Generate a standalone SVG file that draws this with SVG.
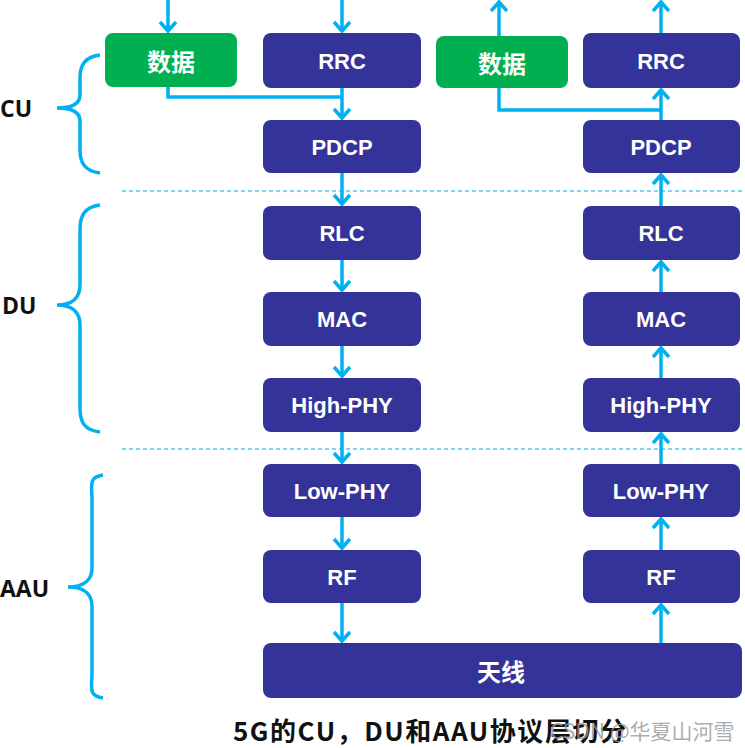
<svg xmlns="http://www.w3.org/2000/svg" width="745" height="748" viewBox="0 0 745 748">
<style>
.box{fill:#333399}
.green{fill:#00B050}
.t{font-family:"Liberation Sans","Noto Sans CJK SC",sans-serif;font-weight:bold;font-size:22px;fill:#fff;text-anchor:middle;dominant-baseline:central}
.tc{font-family:"Noto Sans CJK SC",sans-serif;font-weight:bold;font-size:24px;fill:#fff;text-anchor:middle;dominant-baseline:central}
.lbl{font-family:"Open Sans","Liberation Sans",sans-serif;font-weight:bold;font-size:23px;fill:#111;dominant-baseline:central}
.c{fill:none;stroke:#00B0F0;stroke-width:3.5}
.brace{fill:none;stroke:#00B0F0;stroke-width:3.5}
.dash{stroke:#00B0F0;stroke-width:1.2;stroke-dasharray:4 3}
.cap{font-family:"Noto Sans CJK SC","Liberation Sans",sans-serif;font-weight:bold;font-size:26px;fill:#111}
.wm{font-family:"Noto Sans CJK SC","Liberation Sans",sans-serif;font-size:21px;fill:#999;opacity:0.8}
</style>
<defs>
<marker id="ah" markerUnits="userSpaceOnUse" viewBox="-12 -10 14 20" markerWidth="14" markerHeight="20" refX="0" refY="0" orient="auto" overflow="visible">
<path d="M-9,-8 L0,0 L-9,8" fill="none" stroke="#00B0F0" stroke-width="3.5" stroke-linejoin="miter"/>
</marker>
</defs>
<rect width="745" height="748" fill="#fff"/>

<g id="dividers">
<line class="dash" x1="122" y1="191" x2="745" y2="191"/>
<line class="dash" x1="122" y1="449" x2="745" y2="449"/>
</g>

<g id="braces">
<path class="brace" d="M100,55 C84,57 80,66 80,78 V95 C80,104 72,108 57,108 C72,108 80,112 80,121 V150 C80,162 84,171 100,173"/>
<path class="brace" d="M100,205 C84,207 80,216 80,230 V285 C80,298 72,305 57,305 C72,305 80,312 80,325 V408 C80,422 84,430 100,432"/>
<path class="brace" d="M103,475 C88,477 92,486 92,500 V568 C92,580 84,587 68,587 C84,587 92,594 92,606 V673 C92,688 88,696 103,698"/>
</g>

<g id="labels">
<text class="lbl" x="0" y="108">CU</text>
<text class="lbl" x="2" y="305">DU</text>
<text class="lbl" x="0" y="588">AAU</text>
</g>

<g id="connectors">
<line class="c" x1="168" y1="0" x2="168" y2="31" marker-end="url(#ah)"/>
<line class="c" x1="342" y1="0" x2="342" y2="31" marker-end="url(#ah)"/>
<path class="c" d="M168,87 V97 H342"/>
<line class="c" x1="342" y1="88" x2="342" y2="118" marker-end="url(#ah)"/>
<line class="c" x1="342" y1="173" x2="342" y2="204" marker-end="url(#ah)"/>
<line class="c" x1="342" y1="260" x2="342" y2="290" marker-end="url(#ah)"/>
<line class="c" x1="342" y1="346" x2="342" y2="376" marker-end="url(#ah)"/>
<line class="c" x1="342" y1="432" x2="342" y2="462" marker-end="url(#ah)"/>
<line class="c" x1="342" y1="517" x2="342" y2="548" marker-end="url(#ah)"/>
<line class="c" x1="342" y1="603" x2="342" y2="641" marker-end="url(#ah)"/>

<line class="c" x1="499" y1="36" x2="499" y2="2" marker-end="url(#ah)"/>
<line class="c" x1="661" y1="33" x2="661" y2="2" marker-end="url(#ah)"/>
<path class="c" d="M499,88 V110 H661"/>
<line class="c" x1="661" y1="120" x2="661" y2="90" marker-end="url(#ah)"/>
<line class="c" x1="661" y1="206" x2="661" y2="175" marker-end="url(#ah)"/>
<line class="c" x1="661" y1="292" x2="661" y2="262" marker-end="url(#ah)"/>
<line class="c" x1="661" y1="378" x2="661" y2="348" marker-end="url(#ah)"/>
<line class="c" x1="661" y1="464" x2="661" y2="434" marker-end="url(#ah)"/>
<line class="c" x1="661" y1="550" x2="661" y2="519" marker-end="url(#ah)"/>
<line class="c" x1="661" y1="643" x2="661" y2="605" marker-end="url(#ah)"/>
</g>

<g id="L-data"><rect class="green" x="105" y="33" width="132" height="54" rx="8"/><text class="tc" x="171" y="60">数据</text></g>
<g id="L-RRC"><rect class="box" x="263" y="33" width="158" height="55" rx="8"/><text class="t" x="342" y="61">RRC</text></g>
<g id="L-PDCP"><rect class="box" x="263" y="120" width="158" height="53" rx="8"/><text class="t" x="342" y="147">PDCP</text></g>
<g id="L-RLC"><rect class="box" x="263" y="206" width="158" height="54" rx="8"/><text class="t" x="342" y="233">RLC</text></g>
<g id="L-MAC"><rect class="box" x="263" y="292" width="158" height="54" rx="8"/><text class="t" x="342" y="319">MAC</text></g>
<g id="L-HighPHY"><rect class="box" x="263" y="378" width="158" height="54" rx="8"/><text class="t" x="342" y="405">High-PHY</text></g>
<g id="L-LowPHY"><rect class="box" x="263" y="464" width="158" height="53" rx="8"/><text class="t" x="342" y="491">Low-PHY</text></g>
<g id="L-RF"><rect class="box" x="263" y="550" width="158" height="53" rx="8"/><text class="t" x="342" y="577">RF</text></g>

<g id="R-data"><rect class="green" x="436" y="36" width="132" height="52" rx="8"/><text class="tc" x="502" y="62">数据</text></g>
<g id="R-RRC"><rect class="box" x="583" y="33" width="157" height="55" rx="8"/><text class="t" x="661" y="61">RRC</text></g>
<g id="R-PDCP"><rect class="box" x="583" y="120" width="157" height="53" rx="8"/><text class="t" x="661" y="147">PDCP</text></g>
<g id="R-RLC"><rect class="box" x="583" y="206" width="157" height="54" rx="8"/><text class="t" x="661" y="233">RLC</text></g>
<g id="R-MAC"><rect class="box" x="583" y="292" width="157" height="54" rx="8"/><text class="t" x="661" y="319">MAC</text></g>
<g id="R-HighPHY"><rect class="box" x="583" y="378" width="157" height="54" rx="8"/><text class="t" x="661" y="405">High-PHY</text></g>
<g id="R-LowPHY"><rect class="box" x="583" y="464" width="157" height="53" rx="8"/><text class="t" x="661" y="491">Low-PHY</text></g>
<g id="R-RF"><rect class="box" x="583" y="550" width="157" height="53" rx="8"/><text class="t" x="661" y="577">RF</text></g>

<g id="antenna"><rect class="box" x="263" y="643" width="479" height="55" rx="8"/><text class="tc" x="501" y="670">天线</text></g>

<g id="caption">
<text class="cap" x="233" y="741" textLength="393" lengthAdjust="spacing">5G的CU，DU和AAU协议层切分</text>
<text class="wm" x="550" y="739">CSDN @华夏山河雪</text>
</g>
</svg>
